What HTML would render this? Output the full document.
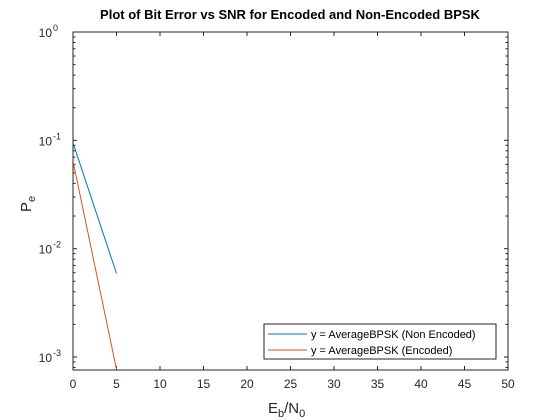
<!DOCTYPE html>
<html><head><meta charset="utf-8"><style>body{margin:0;background:#fff}svg{display:block;font-family:"Liberation Sans",Arial,sans-serif}</style></head>
<body>
<svg id="c" width="560" height="420" xmlns="http://www.w3.org/2000/svg"></svg>
<script>
const xVals=[0,5];
const nonEncoded=[0.095,0.0059];
const encoded=[0.064,0.00077];
const xTicks=[0,5,10,15,20,25,30,35,40,45,50];
const yDecades=[0,-1,-2,-3];
const L=73,R=508,T=32,B=370;
const yMinLog=-3.12;
const sx=v=>L+(v-0)/(50-0)*(R-L);
const sy=v=>T+(0-Math.log10(v))/(0-yMinLog)*(B-T);
const svg=document.getElementById('c');
const NS='http://www.w3.org/2000/svg';
function mk(t,a,p){const e=document.createElementNS(NS,t);for(const k in a)e.setAttribute(k,a[k]);(p||svg).appendChild(e);return e;}
let e;
e=mk('rect',{x:L,y:T,width:R-L,height:B-T,fill:'#fff',stroke:'none'});


const defs=mk('defs',{});
const cp=mk('clipPath',{id:'clip'},defs);mk('rect',{x:L,y:T,width:R-L,height:B-T},cp);
const ax=mk('g',{stroke:'#262626','stroke-width':1,fill:'none'});


mk('rect',{x:L,y:T,width:R-L,height:B-T},ax);
xTicks.forEach(t=>{const x=sx(t);mk('line',{x1:x,y1:B,x2:x,y2:B-4},ax);mk('line',{x1:x,y1:T,x2:x,y2:T+4},ax);
 e=mk('text',{x:x,y:388,'text-anchor':'middle','font-size':12,fill:'#262626',stroke:'none'});e.textContent=t;
 
 });
for(let d=-4;d<=0;d++){for(let m=1;m<10;m++){const v=m*Math.pow(10,d);const lv=Math.log10(v);if(lv<yMinLog||lv>0)continue;const y=sy(v);const len=m===1?4:2.5;
 mk('line',{x1:L,y1:y,x2:L+len,y2:y},ax);mk('line',{x1:R,y1:y,x2:R-len,y2:y},ax);}}
yDecades.forEach(d=>{const y=sy(Math.pow(10,d));
 e=mk('text',{x:52,y:y+5,'text-anchor':'end','font-size':12,fill:'#262626'});e.textContent='10';
 
 
 const s=mk('text',{x:53,y:y-1,'font-size':9,fill:'#262626'});s.textContent=String(d);});
function series(vals,col,name){const pts=xVals.map((x,i)=>sx(x)+','+sy(vals[i])).join(' ');
 const p=mk('polyline',{points:pts,fill:'none',stroke:col,'stroke-width':1,'clip-path':'url(#clip)'});
 
 }
series(nonEncoded,'#0072BD','line-non-encoded');
series(encoded,'#D95319','line-encoded');
e=mk('text',{x:290,y:19,'text-anchor':'middle','font-size':13,'font-weight':'bold',fill:'#000'});e.textContent='Plot of Bit Error vs SNR for Encoded and Non-Encoded BPSK';


e=mk('text',{x:268,y:413,'font-size':15,fill:'#262626'});e.innerHTML='E<tspan font-size="11" dy="4">b</tspan><tspan dy="-4">/N</tspan><tspan font-size="11" dy="4">0</tspan>';


e=mk('text',{transform:'translate(31,212) rotate(-90)','font-size':15,fill:'#262626'});e.innerHTML='P<tspan font-size="11" dy="4">e</tspan>';


const lg=mk('g',{});


mk('rect',{x:264,y:324,width:232,height:35,fill:'#fff',stroke:'#262626','stroke-width':1},lg);
mk('line',{x1:268,y1:334,x2:307,y2:334,stroke:'#0072BD'},lg);
mk('line',{x1:268,y1:350,x2:307,y2:350,stroke:'#D95319'},lg);
e=mk('text',{x:311,y:338,'font-size':11,fill:'#000'},lg);e.textContent='y = AverageBPSK (Non Encoded)';


e=mk('text',{x:311,y:354,'font-size':11,fill:'#000'},lg);e.textContent='y = AverageBPSK (Encoded)';


</script>
</body></html>
